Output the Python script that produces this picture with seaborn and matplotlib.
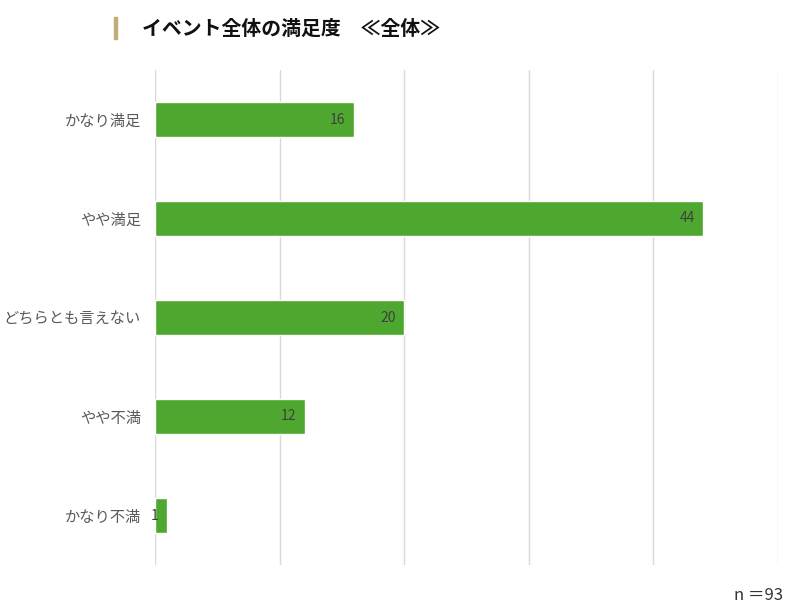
import matplotlib
matplotlib.use('Agg')
import matplotlib.pyplot as plt
import seaborn as sns
import pandas as pd

# data
categories = ['かなり満足', 'やや満足', 'どちらとも言えない', 'やや不満', 'かなり不満']
counts = [16, 44, 20, 12, 1]
n_total = 93

sns.set_theme(style='white')
plt.rcParams['font.family'] = ['Noto Sans CJK JP', 'DejaVu Sans']

df = pd.DataFrame({'cat': categories, 'n': counts})

fig = plt.figure(figsize=(8.03, 6.08), dpi=100)
ax = fig.add_axes([155 / 803, 1 - 565 / 608, (778 - 155) / 803, (565 - 70) / 608])

sns.barplot(data=df, y='cat', x='n', orient='h', color='#4EA72E',
            saturation=1, width=0.345, ax=ax)

ax.set_xlim(0, 50)
ax.set_ylim(4.5, -0.5)
ax.set_xticks(range(0, 51, 10))
ax.xaxis.grid(True, color='#D9D9D9', linewidth=1)
ax.set_axisbelow(True)
ax.tick_params(axis='x', labelbottom=False, length=0)
ax.tick_params(axis='y', length=0, pad=10, labelsize=11, labelcolor='#595959')
ax.set_xlabel('')
ax.set_ylabel('')
for s in ax.spines.values():
    s.set_visible(False)

# value labels inside the bar end
for i, v in enumerate(counts):
    ax.text(v - 0.7, i, str(v), ha='right', va='center', fontsize=10, color='#404040')

# title with gold marker
fig.patches.append(plt.Rectangle((114 / 803, 1 - 39 / 608), 3 / 803, 22 / 608,
                                 transform=fig.transFigure, color='#C2AD78'))
fig.text(142 / 803, 1 - 28 / 608, 'イベント全体の満足度　≪全体≫', fontsize=14.3,
         fontweight='bold', color='#111111', ha='left', va='center')

fig.text(783 / 803, 1 - 596 / 608, f'n ＝{n_total}', fontsize=12, color='#333333',
         ha='right', va='center')

fig.savefig('out.png', dpi=100)
